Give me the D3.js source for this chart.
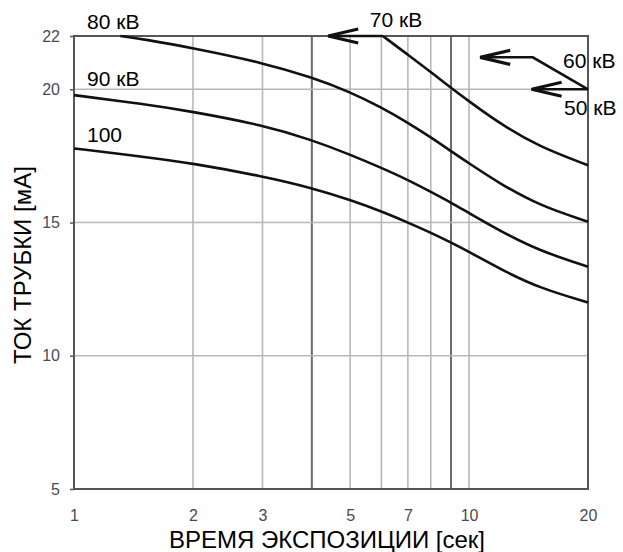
<!DOCTYPE html>
<html><head><meta charset="utf-8">
<script src="https://cdn.jsdelivr.net/npm/d3@7"></script>
<style>
html,body{margin:0;padding:0;background:#fff;}
svg{display:block;font-family:"Liberation Sans",Arial,sans-serif;}
</style></head>
<body>
<svg id="chart" width="623" height="552"></svg>
<script>
// ---- data ----
const xTicks = [1, 2, 3, 5, 7, 10, 20];
const xGrid = [2, 3, 4, 5, 6, 7, 8, 9, 10];
const xGridDark = [4, 9];
const yTicks = [5, 10, 15, 20, 22];
const yGrid = [10, 15, 20];

const kv70 = [[6.05,22],[7,21.3],[8,20.65],[9,20.05],[10,19.55],[12,18.7],[15,17.85],[20,17.15]];
const kv80 = [[1.31,22],[1.5,21.88],[2,21.55],[3,21.0],[4,20.45],[5,19.9],[6,19.32],[7,18.75],[8,18.2],[9,17.68],[10,17.22],[12,16.45],[15,15.65],[20,15.03]];
const kv90 = [[1,19.78],[1.5,19.45],[2,19.16],[3,18.66],[4,18.1],[5,17.55],[6,17.05],[7,16.6],[8,16.15],[9,15.75],[10,15.35],[12,14.68],[15,13.95],[20,13.34]];
const kv100 = [[1,17.78],[1.5,17.47],[2,17.22],[3,16.74],[4,16.3],[5,15.85],[6,15.42],[7,15.0],[8,14.62],[9,14.25],[10,13.9],[12,13.25],[15,12.55],[20,12.0]];

// annotation arrows (data coords): path points, last point is the arrow tip
const arrow70 = [[6.05,22],[4.4,22]];
const arrow60 = [[20,20],[14.5,21.2],[10.67,21.2]];
const arrow50 = [[20,20],[14.4,20]];

const labels = [
  {text:"80 кВ", x:1, y:22, dx:13, dy:-7},
  {text:"90 кВ", x:1, y:20, dx:13, dy:-3},
  {text:"100",   x:1, y:17.78, dx:13, dy:-6},
  {text:"70 кВ", x:6.05, y:22, dx:-13, dy:-9},
  {text:"60 кВ", x:20, y:21.2, dx:-25, dy:11},
  {text:"50 кВ", x:20, y:20, dx:-24, dy:26}
];

// ---- layout ----
const svg = d3.select("#chart");
const x = d3.scaleLog().domain([1, 20]).range([74, 588]);
const y = d3.scaleLinear().domain([5, 22]).range([489, 36]);

// grid
svg.append("g").selectAll("line").data(xGrid).join("line")
  .attr("x1", d => x(d)).attr("x2", d => x(d))
  .attr("y1", y(22)).attr("y2", y(5))
  .attr("stroke", d => xGridDark.includes(d) ? "#6a6a6a" : "#b8b8b8")
  .attr("stroke-width", d => xGridDark.includes(d) ? 2 : 1.6);
svg.append("g").selectAll("line").data(yGrid).join("line")
  .attr("x1", x(1)).attr("x2", x(20))
  .attr("y1", d => y(d)).attr("y2", d => y(d))
  .attr("stroke", "#b8b8b8").attr("stroke-width", 1.6);

// frame
svg.append("rect")
  .attr("x", x(1)).attr("y", y(22))
  .attr("width", x(20) - x(1)).attr("height", y(5) - y(22))
  .attr("fill", "none").attr("stroke", "#555").attr("stroke-width", 2);

// axes
const yAxis = d3.axisLeft(y).tickValues(yTicks).tickSize(4).tickPadding(10).tickFormat(d3.format("d"));
const gy = svg.append("g").attr("transform", `translate(${x(1)},0)`).call(yAxis);
gy.select(".domain").remove();
gy.selectAll(".tick line").attr("stroke", "#555").attr("stroke-width", 1.5);
gy.selectAll(".tick text").attr("fill", "#4a4a55").attr("font-size", 16).attr("font-family", "Liberation Sans, Arial, sans-serif");

const xAxis = d3.axisBottom(x).tickValues(xTicks).tickSize(0).tickPadding(21).tickFormat(d3.format("d"));
const gx = svg.append("g").attr("transform", `translate(0,${y(5)})`).call(xAxis);
gx.select(".domain").remove();
gx.selectAll(".tick text").attr("fill", "#4a4a4a").attr("font-size", 16).attr("font-family", "Liberation Sans, Arial, sans-serif");

// curves
const lineGen = d3.line().x(d => x(d[0])).y(d => y(d[1])).curve(d3.curveBasis);
[kv70, kv80, kv90, kv100].forEach(s => {
  svg.append("path").attr("d", lineGen(s))
    .attr("fill", "none").attr("stroke", "#111").attr("stroke-width", 2.6);
});

// arrows
const straight = d3.line().x(d => x(d[0])).y(d => y(d[1]));
function drawArrow(pts) {
  svg.append("path").attr("d", straight(pts))
    .attr("fill", "none").attr("stroke", "#111").attr("stroke-width", 2.6);
  const tip = pts[pts.length - 1], prev = pts[pts.length - 2];
  const tx = x(tip[0]), ty = y(tip[1]);
  const ang = Math.atan2(y(prev[1]) - ty, x(prev[0]) - tx);
  const L = 30, W = 7;
  const bx = tx + Math.cos(ang) * L, by = ty + Math.sin(ang) * L;
  const nx = -Math.sin(ang) * W, ny = Math.cos(ang) * W;
  svg.append("path")
    .attr("d", `M${bx + nx},${by + ny} L${tx},${ty} L${bx - nx},${by - ny}`)
    .attr("fill", "none").attr("stroke", "#111").attr("stroke-width", 3.2)
    .attr("stroke-linejoin", "miter");
}
[arrow70, arrow60, arrow50].forEach(drawArrow);

// labels
svg.append("g").selectAll("text").data(labels).join("text")
  .attr("x", d => x(d.x) + d.dx).attr("y", d => y(d.y) + d.dy)
  .attr("font-size", 21).attr("fill", "#000")
  .text(d => d.text);

// axis titles
svg.append("text").attr("x", 327).attr("y", 548).attr("text-anchor", "middle")
  .attr("font-size", 24).attr("fill", "#000").text("ВРЕМЯ ЭКСПОЗИЦИИ [сек]");
svg.append("text").attr("transform", "translate(31,265) rotate(-90)")
  .attr("text-anchor", "middle").attr("font-size", 24).attr("fill", "#000")
  .text("ТОК ТРУБКИ [мА]");
</script>
</body></html>
